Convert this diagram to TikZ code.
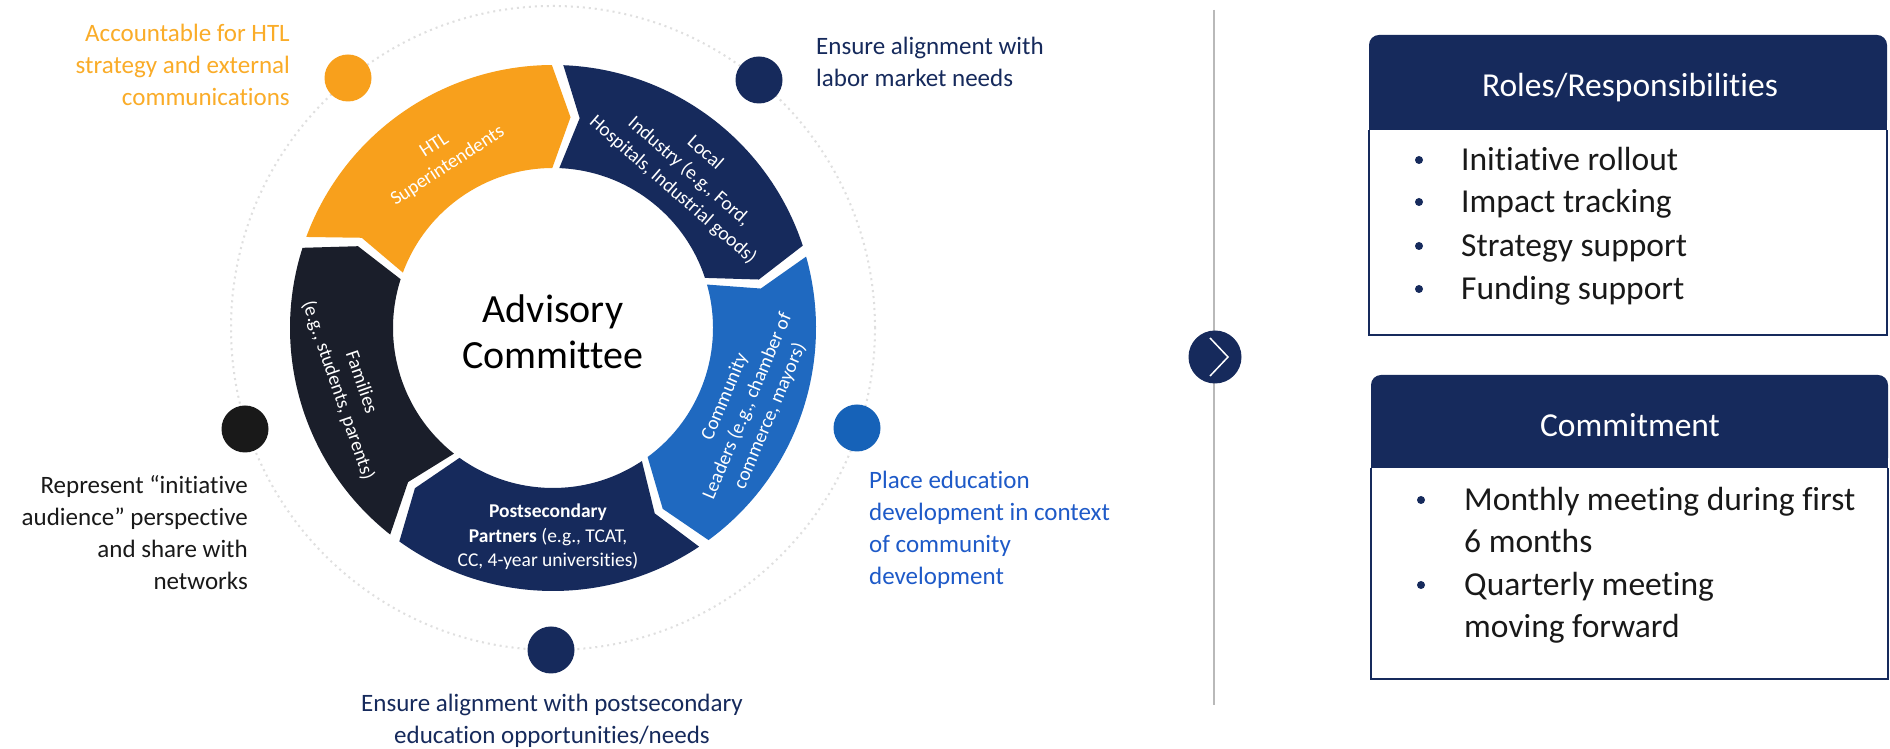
\documentclass[tikz,border=0pt]{standalone}
\usepackage{fontspec}
\setmainfont{Carlito}[Ligatures={NoCommon}]
\definecolor{orangeC}{RGB}{248,160,28}
\definecolor{orangeT}{RGB}{250,172,40}
\definecolor{navyC}{RGB}{22,42,92}
\definecolor{commC}{RGB}{31,105,192}
\definecolor{famC}{RGB}{26,30,42}
\definecolor{blueDot}{RGB}{22,98,184}
\definecolor{blueT}{RGB}{30,90,200}
\definecolor{blackT}{RGB}{25,25,25}
\newcommand{\ringseg}[2]{%
  \pgfmathsetmacro\segS{#2-1.25}%
  \pgfmathsetmacro\segE{#2-72+1.25}%
  \pgfmathsetmacro\segT{#2-72+1.25-5}%
  \pgfmathsetmacro\segN{#2-1.25-5}%
  \fill[#1] (\segS:263) arc[start angle=\segS, end angle=\segE, radius=263]
    -- (\segT:211.5) -- (\segE:160)
    arc[start angle=\segE, end angle=\segS, radius=160]
    -- (\segN:211.5) -- cycle;
}
\tikzset{
  ringtxt/.style={text=white, align=center, inner sep=0pt, font=\fontsize{19.5}{24.5}\selectfont},
  anntxt/.style={inner sep=0pt, font=\fontsize{25}{32}\selectfont},
  dotnode/.style={circle, minimum size=47pt, inner sep=0pt},
  hdrtxt/.style={text=white, inner sep=0pt, font=\fontsize{33.5}{40}\selectfont},
  itemtxt/.style={text=blackT, inner sep=0pt, anchor=base west, font=\fontsize{33.5}{43}\selectfont},
  bul/.style={circle, fill=navyC, minimum size=8pt, inner sep=0pt},
}
\begin{document}
\begin{tikzpicture}[x=1pt,y=1pt]
\useasboundingbox (0,0) rectangle (1890,749);
\fill[white] (0,0) rectangle (1890,749);

\begin{scope}[shift={(553,421)}]
  % faint dotted orbit
  \draw[gray!25, line width=2pt, dash pattern=on 2pt off 4pt] (0,0) circle (322);
  % ring segments
  \ringseg{orangeC}{161}
  \ringseg{navyC}{89}
  \ringseg{commC}{17}
  \ringseg{navyC}{-55}
  \ringseg{famC}{-127}
  % ring labels
  \node[ringtxt, rotate=33] (htl) at (123:205) {HTL\\Superintendents};
  \node[ringtxt, rotate=-41] (ind) at (49:207) {Local\\Industry (e.g., Ford,\\Hospitals, Industrial goods)};
  \node[ringtxt, rotate=67] (comm) at (-22:210) {Community\\Leaders (e.g., chamber of\\commerce, mayors)};
  \node[ringtxt] (post) at (-5,-209) {\textbf{Postsecondary}\\\textbf{Partners} (e.g., TCAT,\\CC, 4-year universities)};
  \node[ringtxt, rotate=-71] (fam) at (196:212) {Families\\(e.g., students, parents)};
  \node[align=center, inner sep=0pt, font=\fontsize{40}{46}\selectfont] (adv) at (0,-4) {Advisory\\Committee};
  % dots
  \node[dotnode, fill=orangeC] (dotO) at (-205,250) {};
  \node[dotnode, fill=navyC] (dotN) at (206,248) {};
  \node[dotnode, fill=blackT] (dotK) at (-308,-101) {};
  \node[dotnode, fill=blueDot] (dotB) at (304,-100) {};
  \node[dotnode, fill=navyC] (dotP) at (-2,-322) {};
\end{scope}

% annotations
\node[anntxt, text=orangeT, align=right, anchor=east] (acc) at (290,684) {Accountable for HTL\\strategy and external\\communications};
\node[anntxt, text=navyC, align=left, anchor=west] (lab) at (816,687) {Ensure alignment with\\labor market needs};
\node[anntxt, text=blueT, align=left, anchor=west] (place) at (869,219) {Place education\\development in context\\of community\\development};
\node[anntxt, text=blackT, align=right, anchor=east] (rep) at (248,216) {Represent “initiative\\audience” perspective\\and share with\\networks};
\node[anntxt, text=navyC, align=center] (ens) at (552,28) {Ensure alignment with postsecondary\\education opportunities/needs};

% divider with chevron
\coordinate (divTop) at (1214,739);
\coordinate (divBot) at (1214,44);
\draw[gray!55, line width=1.5pt] (divTop) -- (divBot);
\node[circle, fill=navyC, minimum size=53pt, inner sep=0pt] (chev) at (1215,392) {};
\draw[white, line width=1.5pt] ([shift={(-5,19)}]chev.center) -- ([shift={(13,0)}]chev.center) -- ([shift={(-5,-19)}]chev.center);

% box 1
\fill[navyC, rounded corners=10pt] (1369,619) rectangle (1887,714);
\fill[navyC] (1369,619) rectangle (1887,660);
\draw[navyC, line width=2pt] (1369,619) -- (1369,414) -- (1887,414) -- (1887,619);
\node[hdrtxt] (rolesT) at (1630,661) {Roles/Responsibilities};
\node[bul] (rb1) at (1419,589) {};
\node[bul] (rb2) at (1419,547) {};
\node[bul] (rb3) at (1419,503) {};
\node[bul] (rb4) at (1419,460) {};
\node[itemtxt] (ri1) at (1461,578) {Initiative rollout};
\node[itemtxt] (ri2) at (1461,536) {Impact tracking};
\node[itemtxt] (ri3) at (1461,492) {Strategy support};
\node[itemtxt] (ri4) at (1461,449) {Funding support};

% box 2
\fill[navyC, rounded corners=10pt] (1371,281) rectangle (1888,374);
\fill[navyC] (1371,281) rectangle (1888,320);
\draw[navyC, line width=2pt] (1371,281) -- (1371,70) -- (1888,70) -- (1888,281);
\node[hdrtxt] (commitT) at (1630,324) {Commitment};
\node[bul] (cb1) at (1421,249) {};
\node[bul] (cb2) at (1421,164) {};
\node[itemtxt] (ci1) at (1464,238) {Monthly meeting during first};
\node[itemtxt] (ci1b) at (1464,196) {6 months};
\node[itemtxt] (ci2) at (1464,153) {Quarterly meeting};
\node[itemtxt] (ci2b) at (1464,111) {moving forward};
\end{tikzpicture}
\end{document}
